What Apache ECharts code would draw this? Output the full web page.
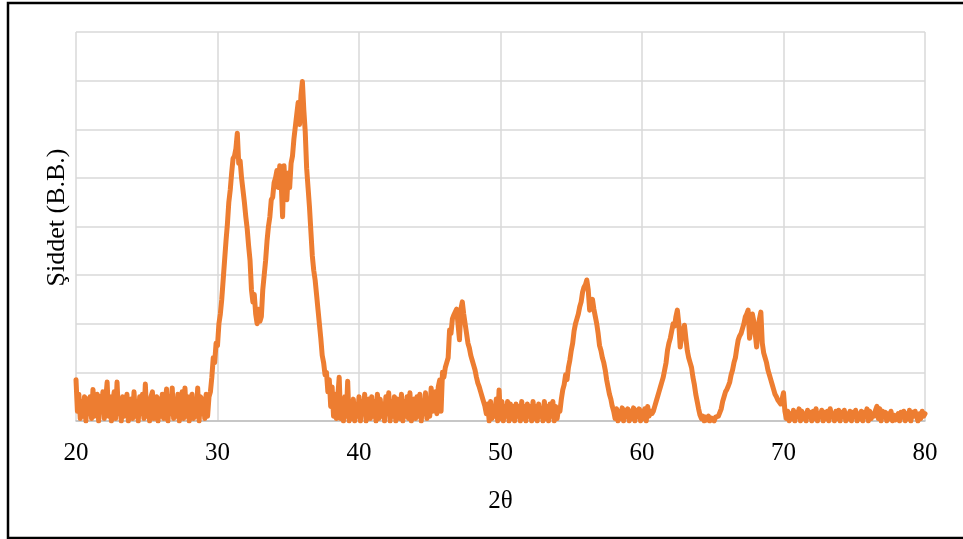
<!DOCTYPE html>
<html>
<head>
<meta charset="utf-8">
<script src="https://cdn.jsdelivr.net/npm/echarts@6/dist/echarts.min.js"></script>
<style>html,body{margin:0;padding:0;background:#fff;}#c{width:963px;height:539px;}</style>
</head>
<body>
<div id="c"></div>
<script>
// 2θ axis
const xMin = 20, xMax = 80, xStep = 10;
const yMin = 0, yMax = 8, yStep = 1;
const xTitle = '2θ';
const yTitle = 'Şiddet (B.B.)';
const sampleStep = 0.1;

// intensity segments (start 2θ, values every 0.1°)
const segA_start = 20.0;
const segA = [0.85,0.2,0.55,0.05,0.4,0.1,0.5,0.0,0.45,0.15,
0.5,0.05,0.65,0.1,0.35,0.55,0.0,0.5,0.2,0.6,
0.05,0.45,0.8,0.1,0.5,0.0,0.4,0.6,0.05,0.8,
0.15,0.45,0.0,0.5,0.1,0.35,0.55,0.0,0.3,0.45,
0.05,0.6,0.1,0.4,0.0,0.5,0.15,0.55,0.05,0.76,
0.1,0.45,0.0,0.5,0.6,0.05,0.35,0.5,0.0,0.45,
0.1,0.55,0.05,0.4,0.66,0.0,0.5,0.15,0.68,0.05,
0.45,0.1,0.55,0.0,0.4,0.6,0.05,0.68,0.1,0.5,
0.0,0.45,0.55,0.05,0.4,0.1,0.68,0.0,0.5,0.15,
0.45,0.05,0.55,0.1,0.5];
const peak1_start = 29.5;
const peak1 = [0.6,0.9,1.3,1.2,1.6,
1.55,2.0,2.2,2.5,2.9,3.3,3.7,4.05,4.5,4.75,
5.1,5.4,5.45,5.6,5.92,5.3,5.35,5.0,4.75,4.5,
4.2,3.95,3.6,3.3,2.7,2.45,2.6,2.2,2.0,2.3,
2.05,2.15,2.7,3.0,3.3,3.7,4.0,4.2,4.55,4.6,
4.9,5.0,5.15,4.8,5.25,4.9,4.2,5.25,4.7,4.55,
5.1,4.8,5.3,5.45,5.8,6.05,6.3,6.55,6.1,6.7,
6.98,6.4,5.95,5.2,4.8,4.4,3.9,3.4,3.1,2.9,
2.6,2.3,2.0,1.7,1.35,1.2,0.95,1.0,0.6,0.85];
const segB_start = 38.0;
const segB = [0.3,0.7,0.1,0.55,0.05,0.5,0.9,0.05,0.4,0.0,
0.5,0.1,0.82,0.0,0.35,0.05,0.45,0.0,0.3,0.1,
0.5,0.0,0.4,0.15,0.55,0.0,0.35,0.45,0.05,0.5,
0.1,0.4,0.0,0.55,0.05,0.45,0.1,0.35,0.0,0.5,
0.15,0.58,0.0,0.4,0.1,0.5,0.0,0.45,0.35,0.05,
0.55,0.0,0.4,0.1,0.5,0.05,0.58,0.0,0.35,0.45,
0.05,0.5,0.1,0.55,0.0,0.4,0.15,0.58,0.05,0.45,
0.1,0.68,0.2];
const peak2_start = 45.3;
const peak2 = [0.3,0.6,0.15,0.7,0.84,0.2,1.0,
0.9,1.1,1.2,1.3,1.87,1.8,2.1,2.18,2.2,2.3,
2.32,1.67,2.3,2.45,2.2,2.0,1.8,1.6,1.5,1.35,
1.25,1.15,1.05,0.9,0.78,0.7,0.6,0.5,0.4,0.3,
0.15];
const segC_start = 49.1;
const segC = [0.35,0.0,0.4,0.05,0.3,0.1,0.45,0.0,0.64,
0.05,0.4,0.0,0.3,0.1,0.4,0.0,0.35,0.05,0.3,
0.0,0.35,0.1,0.3,0.0,0.4,0.05,0.3,0.0,0.35,
0.1,0.3,0.0,0.4,0.05,0.3,0.0,0.35,0.1,0.25,
0.0,0.4,0.05,0.3,0.0,0.35,0.1,0.4,0.0,0.3,
0.05,0.25];
const peak3_start = 54.2;
const peak3 = [0.2,0.45,0.64,0.75,0.95,0.85,1.1,1.25,
1.45,1.6,1.85,2.0,2.1,2.2,2.35,2.45,2.65,2.75,
2.8,2.9,2.7,2.28,2.45,2.5,2.3,2.15,2.0,1.8,
1.55,1.45,1.3,1.2,1.05,0.85,0.7,0.55,0.45,0.3,
0.2];
const segD_start = 58.1;
const segD = [0.05,0.25,0.0,0.2,0.05,0.27,0.0,0.22,0.1,0.25,
0.0,0.2,0.05,0.27,0.0,0.22,0.1,0.25,0.0,0.2,
0.05,0.25,0.0,0.3,0.1,0.2];
const peak4_start = 60.7;
const peak4 = [0.15,0.2,0.3,
0.4,0.5,0.6,0.7,0.8,0.9,1.05,1.2,1.45,1.6,
1.7,1.85,2.0,1.95,2.15,2.28,2.0,1.52,1.75,1.85,
1.97,1.7,1.45,1.3,1.2,1.1,0.9,0.75,0.55,0.4,
0.25,0.12];
const segE_start = 64.2;
const segE = [0.05,0.1,0.0,0.08,0.02,0.1,0.0,0.06,0.1,0.0,0.08,0.05,0.1];
const peak5_start = 65.5;
const peak5 = [0.1,0.25,0.4,0.5,0.6,
0.65,0.72,0.8,0.95,1.05,1.2,1.3,1.5,1.67,1.75,
1.8,1.9,2.0,2.14,2.2,2.28,1.7,1.9,2.2,2.05,
1.8,1.52,1.9,2.1,2.24,1.6,1.4,1.3,1.2,1.05,
0.95,0.85,0.75,0.65,0.55,0.5,0.43,0.4,0.35,0.45,
0.58,0.2];
const segF_start = 70.2;
const segF = [0.05,0.2,0.0,0.15,0.05,0.22,0.0,0.18,
0.1,0.25,0.0,0.2,0.05,0.15,0.0,0.22,0.1,0.18,
0.0,0.2,0.05,0.25,0.0,0.15,0.1,0.22,0.0,0.18,
0.05,0.2,0.0,0.25,0.1,0.15,0.0,0.2,0.05,0.22,
0.0,0.18,0.1,0.22,0.0,0.15,0.05,0.2,0.0,0.18,
0.1,0.22,0.0,0.15,0.05,0.2,0.0,0.18,0.1,0.25,
0.0,0.2,0.05,0.15,0.1,0.22,0.3,0.05,0.25,0.0,
0.2,0.1,0.18,0.0,0.15,0.05,0.2,0.0,0.12,0.02,
0.05,0.15,0.0,0.18,0.08,0.2,0.0,0.15,0.05,0.22,
0.0,0.18,0.1,0.2,0.23,0.0,0.15,0.05,0.2,0.1,
0.15];

const segments = [
  [segA_start, segA], [peak1_start, peak1], [segB_start, segB], [peak2_start, peak2],
  [segC_start, segC], [peak3_start, peak3], [segD_start, segD], [peak4_start, peak4],
  [segE_start, segE], [peak5_start, peak5], [segF_start, segF]
];
const points = [];
segments.forEach(([s, arr]) => {
  arr.forEach((v, i) => points.push([Math.round((s + i * sampleStep) * 10) / 10, v]));
});

const chart = echarts.init(document.getElementById('c'), null, {renderer: 'canvas'});
const font = '"Liberation Serif", "Times New Roman", serif';
chart.setOption({
  animation: false,
  backgroundColor: '#fff',
  grid: {left: 76, right: 38, top: 32, bottom: 118, containLabel: false},
  graphic: [{
    type: 'rect', shape: {x: 8, y: 3, width: 970, height: 535},
    style: {fill: 'none', stroke: '#000', lineWidth: 2.5}, silent: true, z: 100
  }, {
    type: 'text', x: 57, y: 217.5, rotation: Math.PI / 2,
    style: {text: yTitle, font: '26px ' + font, fill: '#000', align: 'center', verticalAlign: 'middle'},
    silent: true
  }],
  xAxis: {
    type: 'value', min: xMin, max: xMax, interval: xStep,
    name: xTitle, nameLocation: 'middle', nameGap: 68,
    nameTextStyle: {fontFamily: font, fontSize: 25, color: '#000'},
    axisLine: {show: true, lineStyle: {color: '#bfbfbf', width: 1.5}},
    axisTick: {show: false},
    axisLabel: {fontFamily: font, fontSize: 25, color: '#000', margin: 20},
    splitLine: {show: true, lineStyle: {color: '#d9d9d9', width: 1.5}}
  },
  yAxis: {
    type: 'value', min: yMin, max: yMax, interval: yStep,
    axisLine: {show: false}, axisTick: {show: false},
    axisLabel: {show: false},
    splitLine: {show: true, lineStyle: {color: '#d9d9d9', width: 1.5}}
  },
  series: [{
    type: 'line', data: points, showSymbol: false, sampling: null,
    lineStyle: {color: '#ED7D31', width: 5, cap: 'round', join: 'round'},
    z: 5
  }]
});
</script>
</body>
</html>
